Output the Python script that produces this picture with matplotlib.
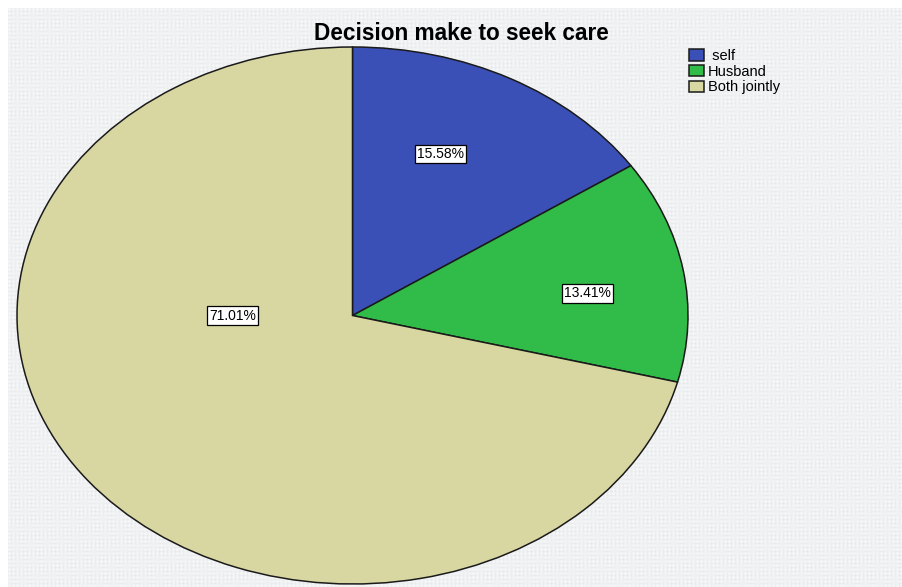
import numpy as np
import matplotlib.pyplot as plt

# who decides to seek care
categories = [' self', 'Husband', 'Both jointly']
shares = [15.58, 13.41, 71.01]
colors = ['#3b50b6', '#31bb48', '#d8d6a1']

# where each percentage box sits (axes units, pie radius 1)
label_pos = [(0.263, 0.60), (0.70, 0.082), (-0.358, 0.0)]

W, H = 903, 587
fig = plt.figure(figsize=(W / 100, H / 100), dpi=100)
fig.patch.set_facecolor('white')
plt.rcParams['font.family'] = ['Liberation Sans', 'DejaVu Sans']

# light canvas panel behind the chart
bg = fig.add_axes([8 / W, 0, 1 - 8 / W, 1 - 8 / H])
bg.set_facecolor('#fafbfd')
bg.set_xticks([])
bg.set_yticks([])
for s in bg.spines.values():
    s.set_visible(False)

# pie stretched into an ellipse: axes box = ellipse bounding box
ax = fig.add_axes([17 / W, 3 / H, 671 / W, 537 / H])
wedges, _ = ax.pie(shares, colors=colors, startangle=90, counterclock=False,
                   radius=1, wedgeprops=dict(edgecolor='#1a1a1a', linewidth=1.1))
ax.set_aspect('auto')
ax.set_xlim(-1, 1)
ax.set_ylim(-1, 1)
ax.axis('off')

# woven canvas texture laid over the panel and the pie
yy, xx = np.mgrid[0:H - 8, 0:W - 8]
weave = (np.sin(xx * np.pi / 2) * (0.6 + 0.4 * np.sin(yy * 0.37 + xx * 0.05))
         + np.sin(yy * np.pi / 2) * (0.6 + 0.4 * np.cos(xx * 0.41 - yy * 0.07)))
tex = fig.add_axes([8 / W, 0, 1 - 8 / W, 1 - 8 / H], zorder=5)
tex.imshow(weave, cmap='gray', alpha=0.08, interpolation='nearest',
           aspect='auto')
tex.axis('off')

for (x, y), v in zip(label_pos, shares):
    ax.text(x, y, '%.2f%%' % v, ha='center', va='center', fontsize=10,
            zorder=10, bbox=dict(boxstyle='square,pad=0.15', facecolor='white',
                                 edgecolor='black', linewidth=0.9))
# keep the labels above the texture layer
ax.set_zorder(6)
ax.patch.set_visible(False)

fig.text(461 / W, 1 - 34 / H, 'Decision make to seek care', ha='center',
         va='center', fontsize=16.3, fontweight='bold', zorder=7)

leg = fig.legend(wedges, categories, loc='upper left',
                 bbox_to_anchor=(689 / W, 1 - 49 / H), frameon=False,
                 fontsize=10.5, handlelength=1.05, handleheight=0.8,
                 handletextpad=0.25, labelspacing=0.12, borderpad=0,
                 borderaxespad=0)
leg.set_zorder(7)

fig.savefig('out.png', dpi=100)
